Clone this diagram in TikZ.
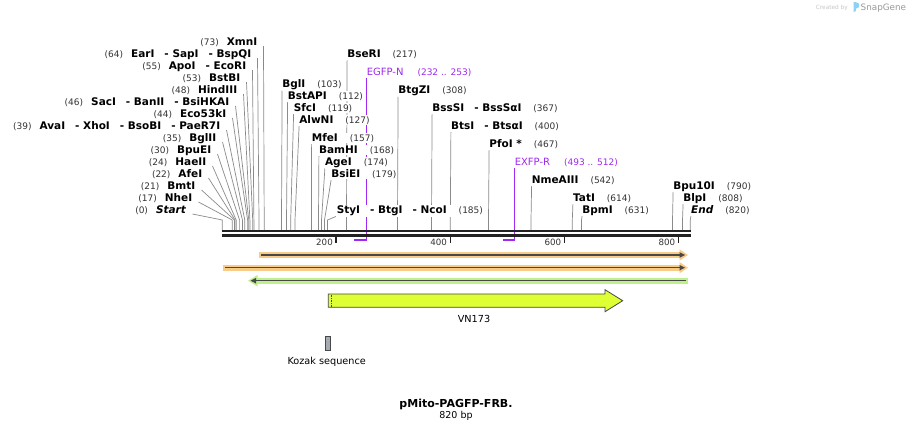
\documentclass[tikz,border=0pt]{standalone}
\usepackage{fontspec}
\setmainfont{DejaVu Sans}
\usetikzlibrary{backgrounds}
\definecolor{seqc}{HTML}{222222}
\definecolor{leadc}{HTML}{8A8A8A}
\definecolor{numc}{HTML}{333333}
\definecolor{primc}{RGB}{160,40,240}
\definecolor{orfill}{HTML}{F9CB88}
\definecolor{grfill}{HTML}{BEF08C}
\definecolor{arrc}{HTML}{484848}
\definecolor{vnfill}{HTML}{DDFF33}
\definecolor{kozfill}{HTML}{A6AAB2}
\definecolor{sgblue}{HTML}{8CD2F4}
\newcommand\enzn[1]{{\fontsize{9}{11}\selectfont\mdseries\color{numc}#1}}
\newcommand\gapA{\hspace{8pt}}
\newcommand\gapB{\hspace{12pt}}
\newcommand\gapC{\hspace{10pt}}
\begin{document}
\begin{tikzpicture}[x=1pt,y=-1pt,
  enzL/.style={anchor=base east, inner sep=0.6pt, fill=white, font=\fontsize{10.5}{12}\selectfont\bfseries},
  enzR/.style={anchor=base west, inner sep=0.6pt, fill=white, font=\fontsize{10.5}{12}\selectfont\bfseries},
  primlab/.style={anchor=base west, inner sep=0.6pt, text=primc, font=\fontsize{10}{12}\selectfont},
  leader/.style={draw=leadc, line width=0.7pt},
  primline/.style={draw=primc, line width=1.1pt},
  seqbar/.style={draw=seqc, line width=2.4pt},
  tick/.style={draw=seqc, line width=1.4pt},
  ticklab/.style={anchor=base east, inner sep=0pt, text=numc, font=\fontsize{8.7}{10}\selectfont},
  featlab/.style={inner sep=0pt, font=\fontsize{9.7}{11}\selectfont},
  featarrow/.style={draw=arrc, line width=1.3pt},
]
\useasboundingbox (0,0) rectangle (913,432);
\begin{pgfonlayer}{background}
\fill[white] (0,0) rectangle (913,432);
\end{pgfonlayer}

% ---------- left cluster ----------
\node[enzL] (xmn)   at (258,45.7)  {\enzn{(73)}\gapA XmnI};
\node[enzL] (ear)   at (252,57.7)  {\enzn{(64)}\gapA EarI\gapC- SapI\gapC- BspQI};
\node[enzL] (apo)   at (247,69.7)  {\enzn{(55)}\gapA ApoI\gapC- EcoRI};
\node[enzL] (bstb)  at (241,81.7)  {\enzn{(53)}\gapA BstBI};
\node[enzL] (hind)  at (238,93.7)  {\enzn{(48)}\gapA HindIII};
\node[enzL] (sac)   at (230,105.7) {\enzn{(46)}\gapA SacI\gapC- BanII\gapC- BsiHKAI};
\node[enzL] (eco)   at (227,117.7) {\enzn{(44)}\gapA Eco53kI};
\node[enzL] (ava)   at (221,129.7) {\enzn{(39)}\gapA AvaI\gapC- XhoI\gapC- BsoBI\gapC- PaeR7I};
\node[enzL] (bgltwo) at (217,141.7) {\enzn{(35)}\gapA BglII};
\node[enzL] (bpue)  at (212,153.7) {\enzn{(30)}\gapA BpuEI};
\node[enzL] (hae)   at (207,165.7) {\enzn{(24)}\gapA HaeII};
\node[enzL] (afe)   at (203,177.7) {\enzn{(22)}\gapA AfeI};
\node[enzL] (bmt)   at (196,189.7) {\enzn{(21)}\gapA BmtI};
\node[enzL] (nhe)   at (193,201.7) {\enzn{(17)}\gapA NheI};
\node[enzL] (startl) at (187,213.7) {\enzn{(0)}\gapA\textit{Start}};

% ---------- middle / right clusters ----------
\node[enzR] (bseri) at (346.5,57.7)  {BseRI\gapB\enzn{(217)}};
\node[enzR] (bglone) at (281.5,87.7) {BglI\gapB\enzn{(103)}};
\node[enzR] (bstapi) at (287,99.7)   {BstAPI\gapB\enzn{(112)}};
\node[enzR] (sfc)   at (293,111.7)   {SfcI\gapB\enzn{(119)}};
\node[enzR] (alwn)  at (298.5,123.7) {AlwNI\gapB\enzn{(127)}};
\node[enzR] (mfe)   at (311,141.7)   {MfeI\gapB\enzn{(157)}};
\node[enzR] (bamh)  at (318.3,153.7) {BamHI\gapB\enzn{(168)}};
\node[enzR] (age)   at (324.3,165.7) {AgeI\gapB\enzn{(174)}};
\node[enzR] (bsie)  at (330.5,177.7) {BsiEI\gapB\enzn{(179)}};
\node[enzR] (sty)   at (336,213.7)   {StyI\gapC- BtgI\gapC- NcoI\gapB\enzn{(185)}};
\node[enzR] (btgz)  at (397.5,93.7)  {BtgZI\gapB\enzn{(308)}};
\node[enzR] (bsss)  at (431.5,111.7) {BssSI\gapC- BssSαI\gapB\enzn{(367)}};
\node[enzR] (bts)   at (450.3,129.7) {BtsI\gapC- BtsαI\gapB\enzn{(400)}};
\node[enzR] (pfo)   at (488.5,147.7) {PfoI *\gapB\enzn{(467)}};
\node[enzR] (nme)   at (531,183.7)   {NmeAIII\gapB\enzn{(542)}};
\node[enzR] (tat)   at (572.3,201.7) {TatI\gapB\enzn{(614)}};
\node[enzR] (bpm)   at (581.5,213.7) {BpmI\gapB\enzn{(631)}};
\node[enzR] (bputen) at (672.5,189.7) {Bpu10I\gapB\enzn{(790)}};
\node[enzR] (blp)   at (682.5,201.7) {BlpI\gapB\enzn{(808)}};
\node[enzR] (endl)  at (690.3,213.7) {\textit{End}\gapB\enzn{(820)}};

% primers
\node[primlab] (egfpn) at (366,75.5)  {EGFP-N\hspace{14pt}{\fontsize{9}{11}\selectfont (232 .. 253)}};
\node[primlab] (exfpr) at (514,165.5) {EXFP-R\hspace{14pt}{\fontsize{9}{11}\selectfont (493 .. 512)}};

\begin{pgfonlayer}{background}
% left leaders
\foreach \n/\s in {xmn/264.2, ear/259, apo/253.9, bstb/252.7, hind/249.9, sac/248.8, eco/247.6, ava/244.8, bgltwo/242.5, bpue/239.6, hae/236.2, afe/235.1, bmt/234.5, nhe/232.2, startl/222.3}
  \draw[leader] ([shift={(5.5,0.3)}]\n.base east) -- (\s,220) -- (\s,230);
% middle / right leaders
\foreach \n/\s in {bseri/346.5, bglone/281.5, bstapi/286.5, sfc/290.7, alwn/295, mfe/311.5, bamh/318.5, age/321.5, bsie/324.5, sty/327.5, btgz/397.5, bsss/431.5, bts/450.3, pfo/488.5, nme/531, tat/572.3, bpm/581.5, bputen/672.5, blp/682.5, endl/690.3}
  \draw[leader] ([shift={(0.6,2.5)}]\n.base west) -- (\s,220) -- (\s,230);
% primer hooks
\coordinate (egfpfoot) at (354,240);
\coordinate (exfpfoot) at (502.5,240);
\draw[primline] ([shift={(0.6,2.5)}]egfpn.base west) -- ([xshift=0.6pt]egfpn.base west |- egfpfoot) -- (egfpfoot);
\draw[primline] ([shift={(0.6,2.5)}]exfpr.base west) -- ([xshift=0.6pt]exfpr.base west |- exfpfoot) -- (exfpfoot);
\end{pgfonlayer}

% ---------- sequence ----------
\draw[seqbar] (222,231.2) -- (690.8,231.2);
\draw[seqbar] (222,235.5) -- (690.8,235.5);
\foreach \x/\t in {336/200, 450.2/400, 564.3/600, 678.4/800}{
  \draw[tick] (\x,236) -- (\x,242.6);
  \node[ticklab] at (\x-3,245.3) {\t};
}

% ---------- features ----------
% row 1
\fill[orfill] (259,252) rectangle (681,258);
\fill[orfill] (679.5,249.3) -- (688,255) -- (679.5,260.7) -- cycle;
\draw[featarrow] (261,255) -- (681,255);
\fill[arrc] (679.5,252.2) -- (685,255) -- (679.5,257.8) -- cycle;
% row 2
\fill[orfill] (222.7,264.7) rectangle (681,270.7);
\fill[orfill] (679.5,262) -- (688,267.7) -- (679.5,273.4) -- cycle;
\draw[featarrow] (225,267.7) -- (681,267.7);
\fill[arrc] (679.5,264.9) -- (685,267.7) -- (679.5,270.5) -- cycle;
% row 3 (reverse)
\fill[grfill] (256,277.7) rectangle (688,283.7);
\fill[grfill] (257.5,275) -- (248,280.7) -- (257.5,286.4) -- cycle;
\draw[featarrow] (254,280.7) -- (686,280.7);
\fill[arrc] (256,277.9) -- (250.5,280.7) -- (256,283.5) -- cycle;

% VN173
\draw[fill=vnfill, draw=arrc, line width=0.8pt]
  (328.3,294) -- (605,294) -- (605,289.7) -- (622.7,300.7) -- (605,311.7) -- (605,307.3) -- (328.3,307.3) -- cycle;
\draw[arrc, line width=0.7pt, densely dotted] (331.3,294.5) -- (331.3,306.8);
\node[featlab] (vnlab) at (474,319) {VN173};

% Kozak
\draw[fill=kozfill, draw=arrc, line width=0.7pt] (325.7,336.3) rectangle (330.5,350.5);
\node[featlab] (kozlab) at (326.7,362) {Kozak sequence};

% title
\node[inner sep=0pt, font=\fontsize{11}{13}\selectfont\bfseries] (title) at (456,404.5) {pMito-PAGFP-FRB.};
\node[inner sep=0pt, font=\fontsize{9.5}{11}\selectfont] (bp) at (456,416) {820 bp};

% created by
\node[anchor=base east, inner sep=0pt, text=black!22, font=\fontsize{5.8}{7}\selectfont] (crby) at (848,9.2) {Created by};
\fill[sgblue] (853.5,2.2) -- (853.5,12.2) -- (855.8,11) -- (855.8,8.6) .. controls (860.5,8.6) and (860.5,2.2) .. (855.8,2.2) -- cycle;
\node[anchor=base west, inner sep=0pt, text=black!40, font=\fontsize{8.8}{10}\selectfont] (sg) at (860.5,10.2) {SnapGene};
\end{tikzpicture}
\end{document}
